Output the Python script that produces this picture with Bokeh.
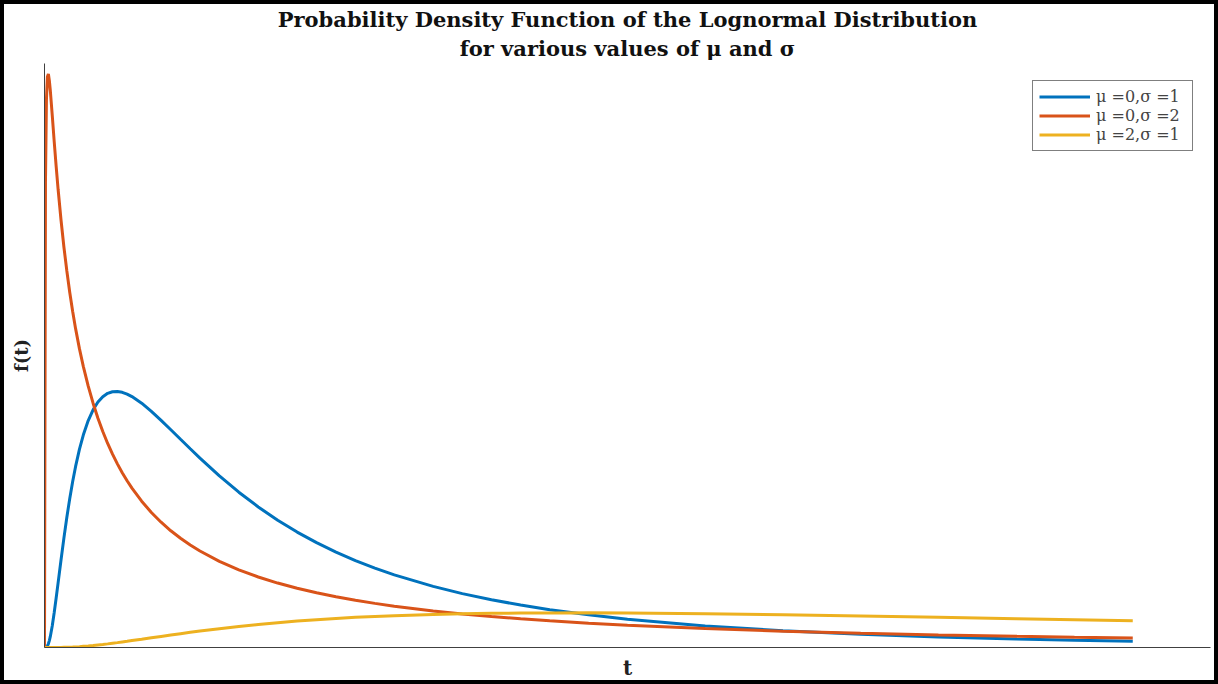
from bokeh.plotting import figure
from bokeh.models import Range1d, Legend, LegendItem, FixedTicker, Title
from bokeh.embed import file_html
from bokeh.resources import INLINE

# Values (t, f(t))
t_vals = [0, 0.005, 0.01, 0.015, 0.02, 0.025, 0.03, 0.04, 0.05, 0.06, 0.07, 0.085,
          0.1, 0.115, 0.13, 0.145, 0.16, 0.18, 0.2, 0.225, 0.25, 0.275, 0.3, 0.325,
          0.35, 0.375, 0.4, 0.425, 0.45, 0.5, 0.55, 0.6, 0.65, 0.7, 0.75, 0.8, 0.9,
          1.0, 1.1, 1.2, 1.3, 1.4, 1.5, 1.6, 1.7, 1.8, 2.0, 2.15, 2.3, 2.45, 2.6,
          2.8, 3.0, 3.4, 3.8, 4.2, 4.6, 5.0, 5.3, 5.6]

f_mu0_s1 = [0, 0.0001, 0.0010, 0.0039, 0.0095, 0.0177, 0.0284, 0.0561, 0.0898,
            0.1271, 0.1660, 0.2249, 0.2815, 0.3345, 0.3829, 0.4264, 0.4651, 0.5094,
            0.5462, 0.5828, 0.6105, 0.6305, 0.6442, 0.6528, 0.6570, 0.6576, 0.6555,
            0.6509, 0.6445, 0.6275, 0.6066, 0.5835, 0.5594, 0.5348, 0.5104, 0.4864,
            0.4408, 0.3989, 0.3610, 0.3270, 0.2965, 0.2693, 0.2450, 0.2233, 0.2039,
            0.1865, 0.1569, 0.1384, 0.1226, 0.1090, 0.0972, 0.0839, 0.0727, 0.0555,
            0.0431, 0.0339, 0.0271, 0.0219, 0.0187, 0.0162]

f_mu0_s2 = [0, 1.194, 1.408, 1.466, 1.473, 1.456, 1.430, 1.366, 1.299, 1.236,
            1.177, 1.098, 1.028, 0.967, 0.912, 0.863, 0.819, 0.767, 0.7215, 0.6713,
            0.6275, 0.5890, 0.5547, 0.5241, 0.4966, 0.4717, 0.4490, 0.4283, 0.4093,
            0.3757, 0.3468, 0.3218, 0.2998, 0.2805, 0.2632, 0.2478, 0.2213, 0.1995,
            0.1811, 0.1655, 0.1521, 0.1405, 0.1303, 0.1213, 0.1133, 0.1061, 0.0939,
            0.0862, 0.0795, 0.0736, 0.0684, 0.0624, 0.0572, 0.0487, 0.0420, 0.0367,
            0.0324, 0.0289, 0.0266, 0.0246]

f_mu2_s1 = [0, 0, 0, 0, 0, 0, 0, 0, 0, 0.0001, 0.0001, 0.0002, 0.0004, 0.0006,
            0.0009, 0.0012, 0.0016, 0.0022, 0.0030, 0.0040, 0.0052, 0.0065, 0.0078,
            0.0093, 0.0109, 0.0125, 0.0142, 0.0159, 0.0177, 0.0212, 0.0248, 0.0284,
            0.0320, 0.0355, 0.0389, 0.0421, 0.0483, 0.0540, 0.0591, 0.0637, 0.0678,
            0.0714, 0.0746, 0.0774, 0.0797, 0.0818, 0.0849, 0.0866, 0.0878, 0.0885,
            0.0889, 0.0890, 0.0886, 0.0868, 0.0842, 0.0810, 0.0775, 0.0739, 0.0712,
            0.0686]

series_labels = ["μ =0,σ =1", "μ =0,σ =2", "μ =2,σ =1"]
series_colors = ["#0072BD", "#D95319", "#EDB120"]

title_line1 = "Probability Density Function of the Lognormal Distribution"
title_line2 = "for various values of μ and σ"
x_label = "t"
y_label = "f(t)"

X_MAX, Y_MAX = 6.0, 1.5
W, H = 1218, 684          # page border of 4px drawn inside (border-box)
L, R, T, B = 40, 12, 58, 41

p = figure(width=W, height=H, output_backend="svg", toolbar_location=None,
           x_range=Range1d(0, X_MAX), y_range=Range1d(0, Y_MAX),
           min_border_left=L, min_border_right=R, min_border_top=T,
           min_border_bottom=B, background_fill_color="white",
           border_fill_color="white", outline_line_color=None, title=None)
p.styles = {"border": "4px solid black"}

title_style = dict(align="center", text_font="DejaVu Serif", text_font_style="bold",
                   text_font_size="21px", text_color="#111111")
p.add_layout(Title(text=title_line2, standoff=5, **title_style), "above")
p.add_layout(Title(text=title_line1, standoff=0, **title_style), "above")

p.grid.visible = False
for ax in (p.xaxis, p.yaxis):
    ax.ticker = FixedTicker(ticks=[])
    ax.major_tick_line_color = None
    ax.minor_tick_line_color = None
    ax.axis_line_color = "#404040"
    ax.axis_line_width = 1
    ax.axis_label_text_font = "DejaVu Serif"
    ax.axis_label_text_font_style = "bold"
    ax.axis_label_text_color = "#222222"
p.xaxis.axis_label = x_label
p.yaxis.axis_label = y_label
p.xaxis.axis_label_text_font_size = "20px"
p.yaxis.axis_label_text_font_size = "18px"
p.xaxis.axis_label_standoff = 8
p.yaxis.axis_label_standoff = 13

renderers = []
for ys, c in zip([f_mu0_s1, f_mu0_s2, f_mu2_s1], series_colors):
    renderers.append(p.line(t_vals, ys, line_color=c, line_width=3))

legend = Legend(items=[LegendItem(label=lab, renderers=[r])
                       for lab, r in zip(series_labels, renderers)],
                location="top_right", margin=17, padding=6, spacing=0,
                glyph_width=51, glyph_height=19, label_height=19,
                label_width=90, label_standoff=6,
                label_text_font="DejaVu Serif", label_text_font_size="16px",
                border_line_color="black", border_line_width=1,
                background_fill_color="white", background_fill_alpha=1)
p.add_layout(legend)

open("out.html", "w").write(file_html(p, INLINE))
